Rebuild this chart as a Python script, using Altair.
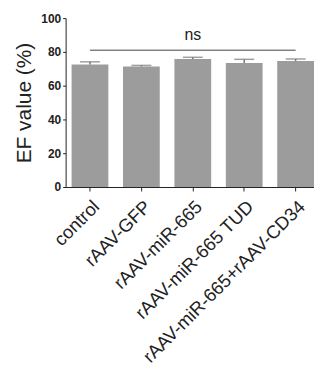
import altair as alt
import pandas as pd

groups = ["control", "rAAV-GFP", "rAAV-miR-665", "rAAV-miR-665 TUD", "rAAV-miR-665+rAAV-CD34"]
means = [72.5, 71.3, 75.8, 73.4, 74.6]
sems = [1.6, 0.7, 1.0, 2.2, 1.2]
sig_from = ["control"]
sig_to = ["rAAV-miR-665+rAAV-CD34"]
sig_y = [81]
sig_label = ["ns"]
sig_label_at = ["rAAV-miR-665"]
sig_label_y = [90]
y_ticks = [0, 20, 40, 60, 80, 100]

df = pd.DataFrame({"group": groups, "mean": means, "sem": sems})
df["upper"] = df["mean"] + df["sem"]
sig = pd.DataFrame({"g1": sig_from, "g2": sig_to, "y": sig_y, "label": sig_label,
                    "lx": sig_label_at, "ly": sig_label_y})

xscale = alt.Scale(domain=groups, paddingInner=0.285, paddingOuter=0.058, align=1)
yscale = alt.Scale(domain=[0, 100])

xaxis = alt.Axis(title=None, labelAngle=-45, labelFontSize=18.5, labelFont="Liberation Sans",
                 labelColor="#222", tickSize=4, tickColor="#222", domainColor="#222",
                 labelPadding=6, labelAlign="right", labelBaseline="top",
                 labelOverlap=False, labelLimit=400)
yaxis = alt.Axis(title="EF value (%)", values=y_ticks, grid=False, labelOverlap=False,
                 labelFontSize=12, labelFontWeight="bold", labelFont="Liberation Sans",
                 labelColor="#222", tickSize=3, tickColor="#222", domainColor="#222",
                 labelPadding=2, titleFontSize=21, titleFont="Liberation Sans",
                 titleFontWeight="normal", titleColor="#222", titlePadding=6)

bars = alt.Chart(df).mark_bar(color="#9c9c9c").encode(
    x=alt.X("group:N", sort=groups, scale=xscale, axis=xaxis),
    y=alt.Y("mean:Q", scale=yscale, axis=yaxis),
)

err = alt.Chart(df).mark_rule(color="#777", strokeWidth=1.5).encode(
    x=alt.X("group:N", sort=groups, scale=xscale, axis=xaxis),
    y=alt.Y("mean:Q", scale=yscale, axis=yaxis),
    y2="upper:Q",
)
cap = alt.Chart(df).mark_tick(color="#777", thickness=1.5, size=20, orient="horizontal").encode(
    x=alt.X("group:N", sort=groups, scale=xscale, axis=xaxis),
    y=alt.Y("upper:Q", scale=yscale, axis=yaxis),
)

line = alt.Chart(sig).mark_rule(color="#444", strokeWidth=1).encode(
    x=alt.X("g1:N", scale=xscale, bandPosition=0.5, axis=xaxis),
    x2="g2:N",
    y=alt.Y("y:Q", scale=yscale, axis=yaxis),
)
txt = alt.Chart(sig).mark_text(fontSize=16, font="Liberation Sans", color="#222").encode(
    x=alt.X("lx:N", scale=xscale, bandPosition=0.5, axis=xaxis),
    y=alt.Y("ly:Q", scale=yscale, axis=yaxis),
    text="label:N",
)

chart = alt.layer(bars, err, cap, line, txt).properties(
    width=250, height=170,
    padding={"left": 5, "top": 3, "right": 0, "bottom": 0},
).configure_view(stroke=None)

chart.save("out.html", embed_options={"renderer": "svg", "actions": False})
